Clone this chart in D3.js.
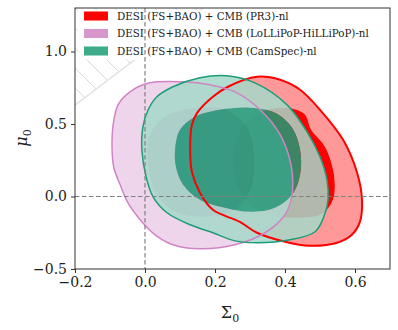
<!DOCTYPE html>
<html>
<head>
<meta charset="utf-8">
<script src="https://cdn.jsdelivr.net/npm/d3@7"></script>
<style>
  body { margin: 0; background: #fff; }
  text { font-family: "DejaVu Serif", serif; fill: #222; }
</style>
</head>
<body>
<div id="chart"></div>
<script>
// contour shapes, [Sigma0, mu0] pairs
const redOuter = [[0.129,0.322],[0.134,0.494],[0.149,0.577],[0.194,0.688],[0.237,0.757],[0.32,0.826],
  [0.386,0.805],[0.443,0.736],[0.5,0.598],[0.566,0.391],[0.606,0.164],[0.62,-0.023],[0.614,-0.175],
  [0.591,-0.264],[0.549,-0.319],[0.471,-0.34],[0.4,-0.312],[0.32,-0.25],[0.271,-0.175],[0.194,-0.092],
  [0.157,0.026],[0.134,0.17]];
const redInner = [[0.4,0.612],[0.455,0.57],[0.475,0.46],[0.515,0.34],[0.54,0.15],[0.537,-0.023],
  [0.505,-0.12],[0.429,-0.147],[0.357,-0.126],[0.3,-0.057],[0.263,0.081],[0.251,0.253],[0.266,0.426],[0.314,0.563]];

const pinkOuter = [[-0.094,0.322],[-0.091,0.494],[-0.077,0.632],[-0.043,0.722],[0.014,0.784],[0.109,0.791],
  [0.186,0.77],[0.257,0.722],[0.329,0.598],[0.386,0.426],[0.417,0.219],[0.42,0.012],[0.4,-0.126],
  [0.343,-0.25],[0.257,-0.333],[0.157,-0.361],[0.08,-0.333],[0.029,-0.264],[-0.014,-0.16],[-0.049,-0.043],
  [-0.071,0.081],[-0.089,0.198]];
const pinkInner = [[0.157,0.612],[0.243,0.584],[0.294,0.46],[0.311,0.253],[0.3,0.046],[0.257,-0.092],
  [0.171,-0.14],[0.086,-0.106],[0.034,0.012],[0.009,0.219],[0.014,0.425],[0.066,0.563]];

const greenOuter = [[-0.009,0.322],[-0.006,0.481],[0.009,0.598],[0.034,0.688],[0.08,0.757],[0.157,0.819],
  [0.234,0.832],[0.314,0.784],[0.406,0.632],[0.463,0.446],[0.5,0.274],[0.52,0.115],[0.523,-0.023],
  [0.511,-0.14],[0.486,-0.243],[0.414,-0.299],[0.32,-0.319],[0.257,-0.306],[0.194,-0.25],[0.129,-0.195],
  [0.063,-0.112],[0.023,-0.002],[0.003,0.136]];
const greenInner = [[0.086,0.322],[0.1,0.46],[0.143,0.55],[0.214,0.598],[0.3,0.612],[0.371,0.577],
  [0.42,0.474],[0.443,0.322],[0.443,0.15],[0.42,0.012],[0.371,-0.078],[0.3,-0.106],[0.229,-0.078],
  [0.157,-0.023],[0.109,0.081],[0.089,0.198]];

// edge of the excluded (hatched) corner
const hatchEdge = [[-0.2,0.63],[0.165,1.3]];

const labels = ["DESI (FS+BAO) + CMB (PR3)-nl",
                "DESI (FS+BAO) + CMB (LoLLiPoP-HiLLiPoP)-nl",
                "DESI (FS+BAO) + CMB (CamSpec)-nl"];
const xTicks = [-0.2, 0.0, 0.2, 0.4, 0.6];
const yTicks = [-0.5, 0.0, 0.5, 1.0];

const width = 398, height = 330;
const margin = {top: 8, right: 8, bottom: 61, left: 75};

const svg = d3.select("#chart").append("svg")
  .attr("width", width).attr("height", height);

const x = d3.scaleLinear().domain([-0.2, 0.7]).range([margin.left, width - margin.right]);
const y = d3.scaleLinear().domain([-0.5, 1.3]).range([height - margin.bottom, margin.top]);

svg.append("clipPath").attr("id", "plotclip")
  .append("rect")
  .attr("x", margin.left).attr("y", margin.top)
  .attr("width", width - margin.left - margin.right)
  .attr("height", height - margin.top - margin.bottom);

const plot = svg.append("g").attr("clip-path", "url(#plotclip)");

// hatched corner
const corner = [[-0.2, 1.3], hatchEdge[0], hatchEdge[1]];
svg.append("clipPath").attr("id", "hatchclip")
  .append("path")
  .attr("d", d3.line().x(d => x(d[0])).y(d => y(d[1]))(corner) + "Z");
const hatch = plot.append("g").attr("clip-path", "url(#hatchclip)");
for (let c = -300; c < 200; c += 20) {
  hatch.append("line")
    .attr("x1", margin.left + c).attr("y1", margin.top)
    .attr("x2", margin.left + c + 200).attr("y2", margin.top + 200)
    .attr("stroke", "#d8d8d8").attr("stroke-width", 1);
}
plot.append("line")
  .attr("x1", x(hatchEdge[0][0])).attr("y1", y(hatchEdge[0][1]))
  .attr("x2", x(hatchEdge[1][0])).attr("y2", y(hatchEdge[1][1]))
  .attr("stroke", "#e2e2e2").attr("stroke-width", 1.5);

const shape = d3.line()
  .x(d => x(d[0])).y(d => y(d[1]))
  .curve(d3.curveCatmullRomClosed.alpha(0.5));

const sets = [
  {outer: redOuter,   inner: redInner,   dark: "#ff0000", pale: "#ff9999", alpha: 1,    lw: 2},
  {outer: pinkOuter,  inner: pinkInner,  dark: "#cf85c4", pale: "#eccee7", alpha: 0.85, lw: 1.5},
  {outer: greenOuter, inner: greenInner, dark: "#1b9e77", pale: "#a4d8c9", alpha: 0.85, lw: 1.5}
];

sets.forEach(s => {
  // 95% band only (ring), then 68% core
  plot.append("path")
    .attr("d", shape(s.outer) + shape(s.inner))
    .attr("fill-rule", "evenodd")
    .attr("fill", s.pale).attr("fill-opacity", s.alpha);
  plot.append("path")
    .attr("d", shape(s.inner))
    .attr("fill", s.dark).attr("fill-opacity", s.alpha);
});

sets.forEach(s => {
  plot.append("path")
    .attr("d", shape(s.outer))
    .attr("fill", "none")
    .attr("stroke", s.dark).attr("stroke-width", s.lw);
});

// legend
const leg = svg.append("g");
leg.append("rect")
  .attr("x", margin.left + 3).attr("y", margin.top + 2)
  .attr("width", 310).attr("height", 50)
  .attr("fill", "#fff").attr("fill-opacity", 0.8);
labels.forEach((t, i) => {
  const cy = 16 + i * 17.5;
  leg.append("rect")
    .attr("x", 84).attr("y", cy - 4.5)
    .attr("width", 24).attr("height", 9)
    .attr("fill", sets[i].dark).attr("fill-opacity", i === 0 ? 1 : 0.85);
  leg.append("text")
    .attr("x", 117).attr("y", cy + 3.5)
    .attr("font-size", 10.3)
    .text(t);
});

// dashed reference lines
svg.append("line")
  .attr("x1", x(0)).attr("x2", x(0))
  .attr("y1", margin.top).attr("y2", height - margin.bottom)
  .attr("stroke", "#808080").attr("stroke-width", 1.2).attr("stroke-dasharray", "4.5,2.5");
svg.append("line")
  .attr("x1", margin.left).attr("x2", width - margin.right)
  .attr("y1", y(0)).attr("y2", y(0))
  .attr("stroke", "#808080").attr("stroke-width", 1.2).attr("stroke-dasharray", "4.5,2.5");

// frame
svg.append("rect")
  .attr("x", margin.left).attr("y", margin.top)
  .attr("width", width - margin.left - margin.right)
  .attr("height", height - margin.top - margin.bottom)
  .attr("fill", "none").attr("stroke", "#333").attr("stroke-width", 1);

// axes
const xAxis = svg.append("g")
  .attr("transform", `translate(0,${height - margin.bottom})`)
  .call(d3.axisBottom(x).tickValues(xTicks).tickFormat(d3.format(".1f")).tickSize(4).tickPadding(4));
const yAxis = svg.append("g")
  .attr("transform", `translate(${margin.left},0)`)
  .call(d3.axisLeft(y).tickValues(yTicks).tickFormat(d3.format(".1f")).tickSize(4).tickPadding(4));
[xAxis, yAxis].forEach(a => {
  a.select(".domain").remove();
  a.selectAll("line").attr("stroke", "#333");
  a.selectAll("text").attr("font-size", 14).attr("font-family", "DejaVu Serif").attr("fill", "#222");
});

// axis labels
const xl = svg.append("text")
  .attr("x", 230).attr("y", 318)
  .attr("text-anchor", "middle").attr("font-size", 16);
xl.append("tspan").text("Σ");
xl.append("tspan").attr("font-size", 11).attr("dy", 4).text("0");

const yl = svg.append("text")
  .attr("transform", "translate(27,138) rotate(-90)")
  .attr("text-anchor", "middle").attr("font-size", 16);
yl.append("tspan").attr("font-style", "italic").text("μ");
yl.append("tspan").attr("font-size", 11).attr("dy", 4).text("0");
</script>
</body>
</html>
